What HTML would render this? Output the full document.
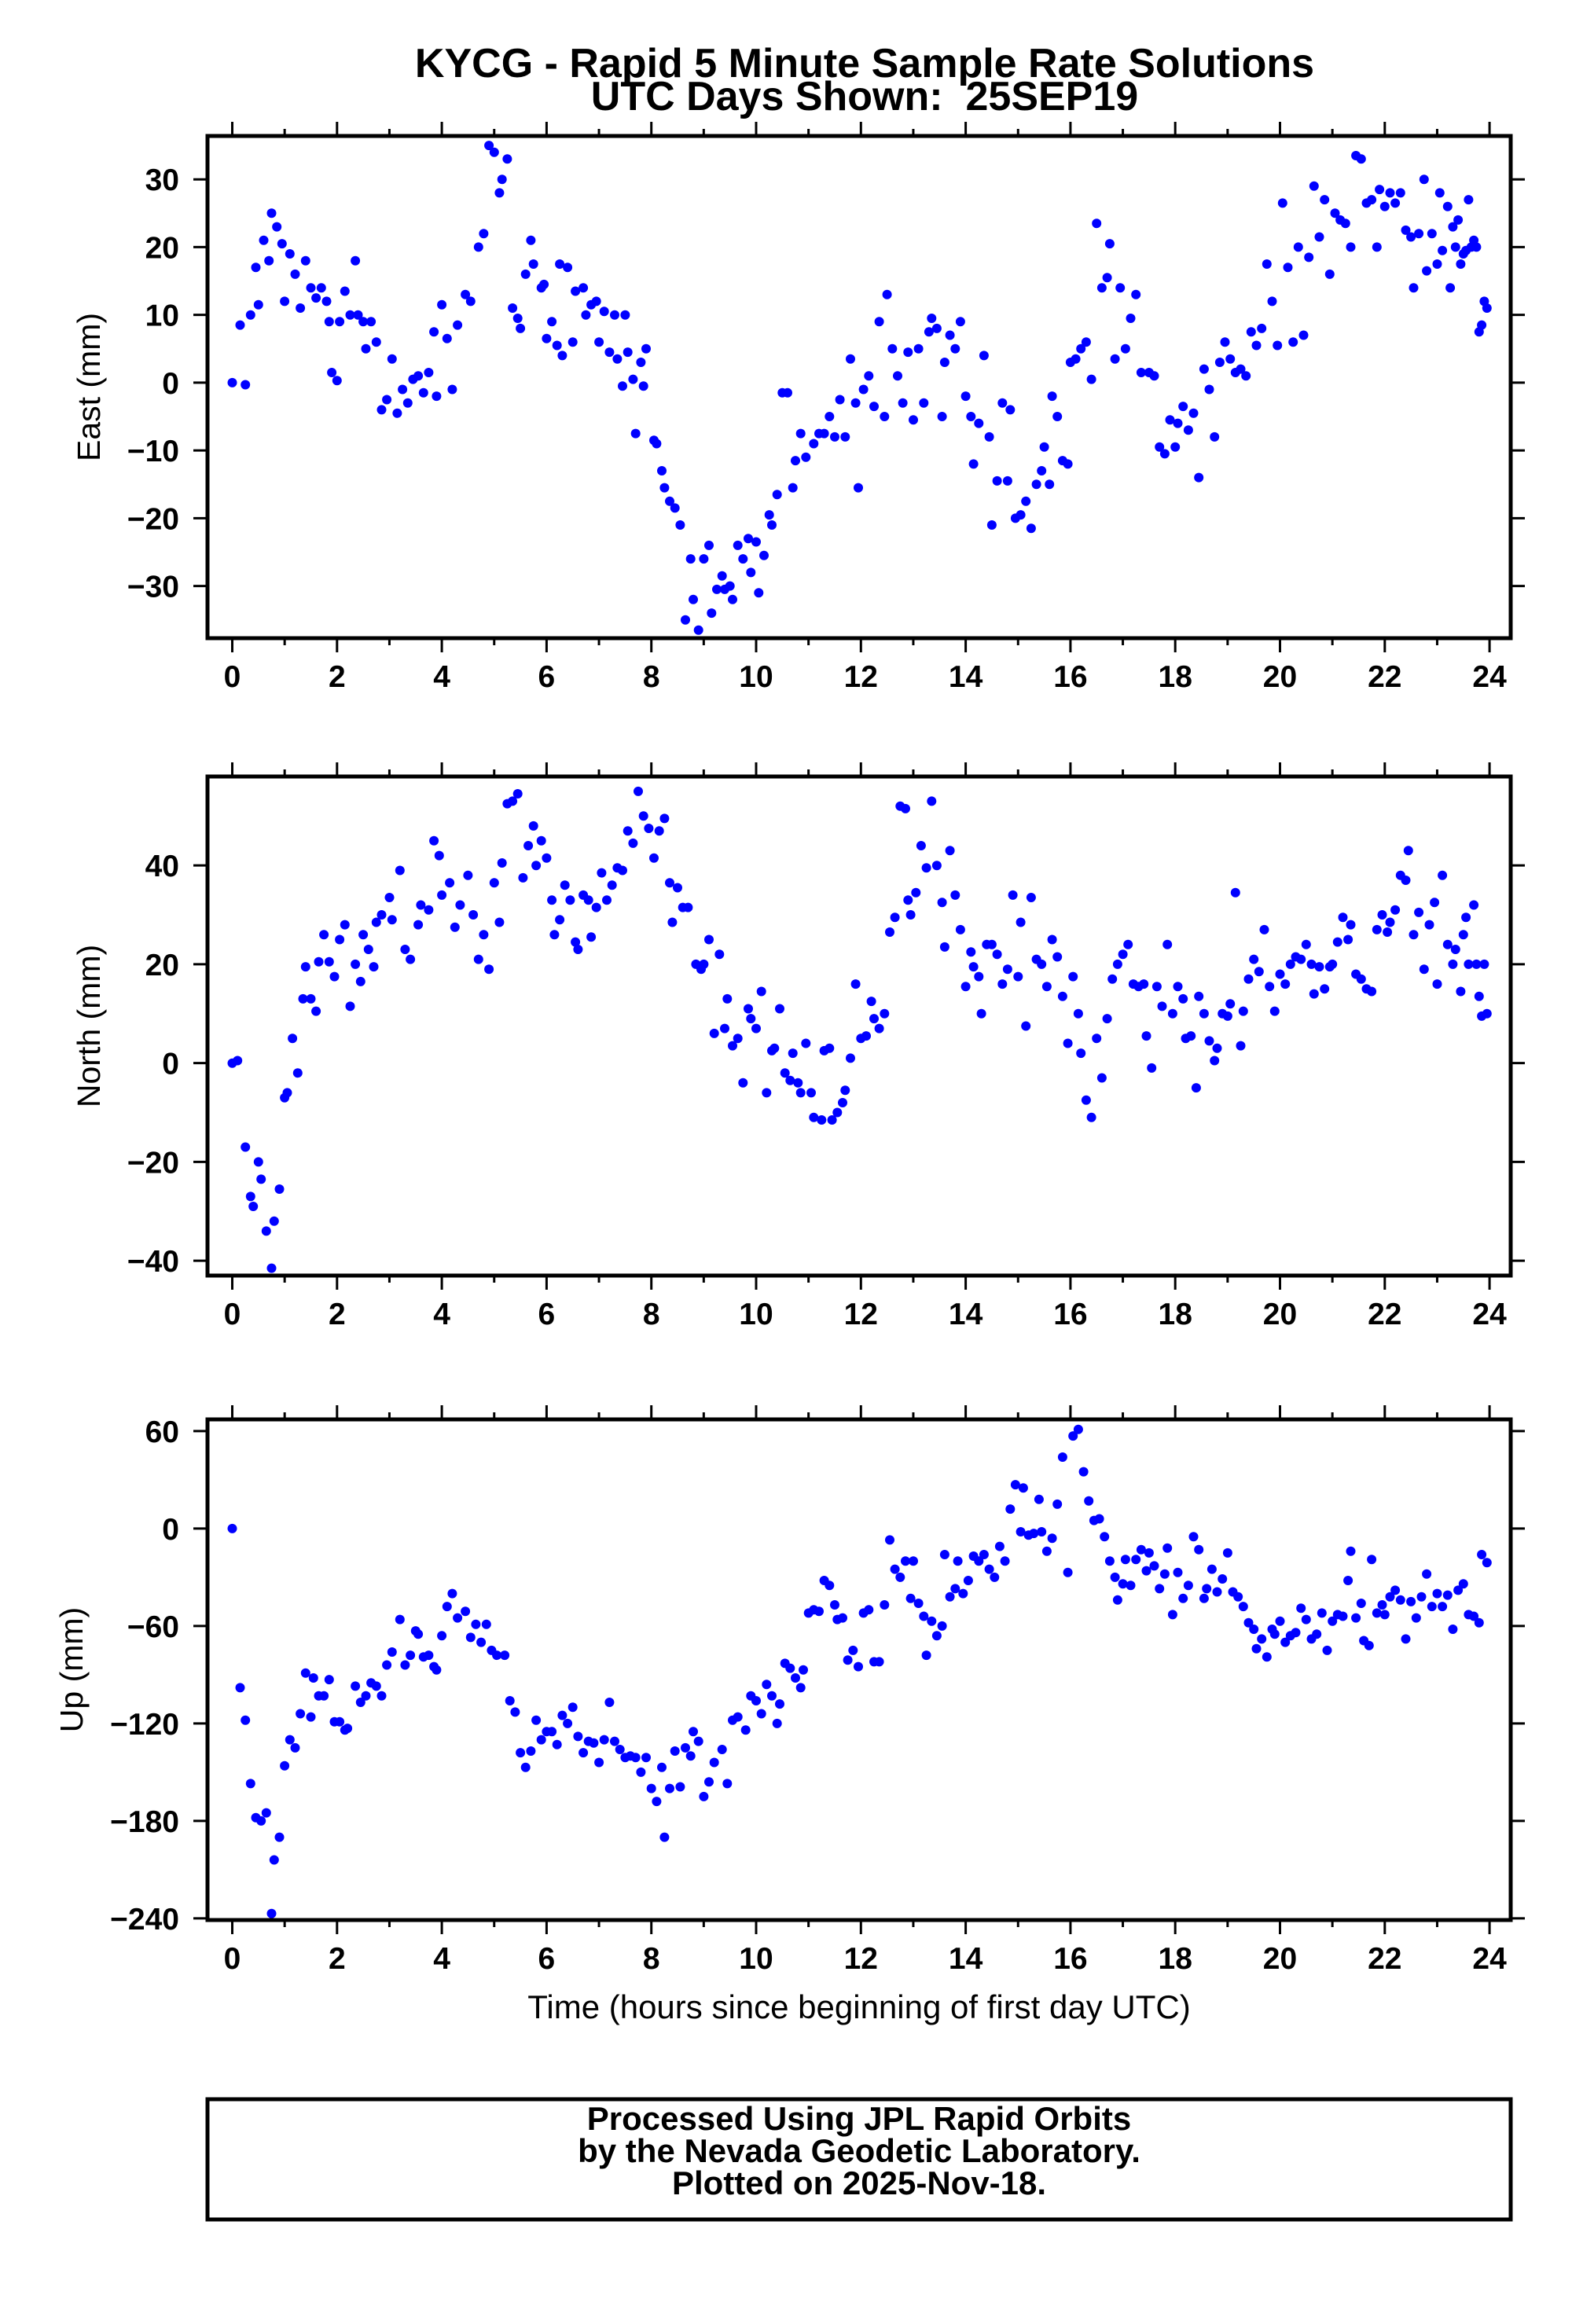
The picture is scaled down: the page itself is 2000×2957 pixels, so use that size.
<!DOCTYPE html>
<html><head><meta charset="utf-8"><style>
html,body{margin:0;padding:0;background:#fff}
svg{display:block}
text{font-family:"Liberation Sans",sans-serif}
</style></head><body>
<svg id="chart" width="2000" height="2957" viewBox="0 0 2000 2957" xmlns="http://www.w3.org/2000/svg">
<text x="1100" y="98" text-anchor="middle" font-size="52" font-weight="bold">KYCG - Rapid 5 Minute Sample Rate Solutions</text>
<text x="1100" y="140" text-anchor="middle" font-size="52" font-weight="bold">UTC Days Shown:&#160; 25SEP19</text>
<g id="plots"></g>
<text x="1093" y="2568" text-anchor="middle" font-size="42">Time (hours since beginning of first day UTC)</text>
<rect x="264" y="2671" width="1658" height="153" fill="none" stroke="#000" stroke-width="5"/>
<text x="1093" y="2710" text-anchor="middle" font-size="42" font-weight="bold">Processed Using JPL Rapid Orbits</text>
<text x="1093" y="2751" text-anchor="middle" font-size="42" font-weight="bold">by the Nevada Geodetic Laboratory.</text>
<text x="1093" y="2792" text-anchor="middle" font-size="42" font-weight="bold">Plotted on 2025-Nov-18.</text>
</svg>
<script>
const xTicks = [0,2,4,6,8,10,12,14,16,18,20,22,24];
const eastTicks = [-30,-20,-10,0,10,20,30];
const northTicks = [-40,-20,0,20,40];
const upTicks = [-240,-180,-120,-60,0,60];

const eastT = [0,0.15,0.25,0.35,0.45,0.5,0.6,0.7,0.75,0.85,0.95,1.0,1.1,1.2,1.3,1.4,1.5,1.6,1.7,1.8,1.85,1.9,2.0,2.05,2.15,2.25,2.35,2.4,2.5,2.55,2.65,2.75,2.85,2.95,3.05,3.15,3.25,3.35,3.45,3.55,3.65,3.75,3.85,3.9,4.0,4.1,4.2,4.3,4.45,4.55,4.7,4.8,4.9,5.0,5.1,5.15,5.25,5.35,5.45,5.5,5.6,5.7,5.75,5.9,5.95,6.0,6.1,6.2,6.25,6.3,6.4,6.5,6.55,6.7,6.75,6.85,6.95,7.0,7.1,7.2,7.3,7.35,7.45,7.5,7.55,7.65,7.7,7.8,7.85,7.9,8.05,8.1,8.2,8.25,8.35,8.45,8.55,8.65,8.75,8.8,8.9,9.0,9.1,9.15,9.25,9.35,9.4,9.5,9.55,9.65,9.75,9.85,9.9,10.0,10.05,10.15,10.25,10.3,10.4,10.5,10.6,10.7,10.75,10.85,10.95,11.1,11.2,11.3,11.4,11.5,11.6,11.7,11.8,11.9,11.95,12.05,12.15,12.25,12.35,12.45,12.5,12.6,12.7,12.8,12.9,13.0,13.1,13.2,13.3,13.35,13.45,13.55,13.6,13.7,13.8,13.9,14.0,14.1,14.15,14.25,14.35,14.45,14.5,14.6,14.7,14.8,14.85,14.95,15.05,15.15,15.25,15.35,15.45,15.5,15.6,15.65,15.75,15.85,15.95,16.0,16.1,16.2,16.3,16.4,16.5,16.6,16.7,16.75,16.85,16.95,17.05,17.15,17.25,17.35,17.5,17.6,17.7,17.8,17.9,18.0,18.05,18.15,18.25,18.35,18.45,18.55,18.65,18.75,18.85,18.95,19.05,19.15,19.25,19.35,19.45,19.55,19.65,19.75,19.85,19.95,20.05,20.15,20.25,20.35,20.45,20.55,20.65,20.75,20.85,20.95,21.05,21.15,21.25,21.35,21.45,21.55,21.65,21.75,21.85,21.9,22.0,22.1,22.2,22.3,22.4,22.5,22.55,22.65,22.75,22.8,22.9,23.0,23.05,23.1,23.2,23.25,23.3,23.35,23.4,23.45,23.5,23.55,23.6,23.65,23.7,23.75,23.8,23.85,23.9,23.95];
const eastV = [0,8.5,-0.3,10,17,11.5,21,18,25,23,20.5,12,19,16,11,18,14,12.5,14,12,9,1.5,0.3,9,13.5,10,18,10,9,5,9,6,-4,-2.5,3.5,-4.5,-1,-3,0.5,1,-1.5,1.5,7.5,-2,11.5,6.5,-1,8.5,13,12,20,22,35,34,28,30,33,11,9.5,8,16,21,17.5,14,14.5,6.5,9,5.5,17.5,4,17,6,13.5,14,10,11.5,12,6,10.5,4.5,10,3.5,-0.5,10,4.5,0.5,-7.5,3,-0.5,5,-8.5,-9,-13,-15.5,-17.5,-18.5,-21,-35,-26,-32,-36.5,-26,-24,-34,-30.5,-28.5,-30.5,-30,-32,-24,-26,-23,-28,-23.5,-31,-25.5,-19.5,-21,-16.5,-1.5,-1.5,-15.5,-11.5,-7.5,-11,-9,-7.5,-7.5,-5,-8,-2.5,-8,3.5,-3,-15.5,-1,1,-3.5,9,-5,13,5,1,-3,4.5,-5.5,5,-3,7.5,9.5,8,-5,3,7,5,9,-2,-5,-12,-6,4,-8,-21,-14.5,-3,-14.5,-4,-20,-19.5,-17.5,-21.5,-15,-13,-9.5,-15,-2,-5,-11.5,-12,3,3.5,5,6,0.5,23.5,14,15.5,20.5,3.5,14,5,9.5,13,1.5,1.5,1,-9.5,-10.5,-5.5,-9.5,-6,-3.5,-7,-4.5,-14,2,-1,-8,3,6,3.5,1.5,2,1,7.5,5.5,8,17.5,12,5.5,26.5,17,6,20,7,18.5,29,21.5,27,16,25,24,23.5,20,33.5,33,26.5,27,20,28.5,26,28,26.5,28,22.5,21.5,14,22,30,16.5,22,17.5,28,19.5,26,14,23,20,24,17.5,19,19.5,27,20,21,20,7.5,8.5,12,11];

const northT = [0,0.1,0.25,0.35,0.4,0.5,0.55,0.65,0.75,0.8,0.9,1.0,1.05,1.15,1.25,1.35,1.4,1.5,1.6,1.65,1.75,1.85,1.95,2.05,2.15,2.25,2.35,2.45,2.5,2.6,2.7,2.75,2.85,3.0,3.05,3.2,3.3,3.4,3.55,3.6,3.75,3.85,3.95,4.0,4.15,4.25,4.35,4.5,4.6,4.7,4.8,4.9,5.0,5.1,5.15,5.25,5.35,5.45,5.55,5.65,5.75,5.8,5.9,6.0,6.1,6.15,6.25,6.35,6.45,6.55,6.6,6.7,6.8,6.85,6.95,7.05,7.15,7.25,7.35,7.45,7.55,7.65,7.75,7.85,7.95,8.05,8.15,8.25,8.35,8.4,8.5,8.6,8.7,8.85,8.95,9.0,9.1,9.2,9.3,9.4,9.45,9.55,9.65,9.75,9.85,9.9,10.0,10.1,10.2,10.3,10.35,10.45,10.55,10.65,10.7,10.8,10.85,10.95,11.05,11.1,11.25,11.3,11.4,11.45,11.55,11.65,11.7,11.8,11.9,12.0,12.1,12.2,12.25,12.35,12.45,12.55,12.65,12.75,12.85,12.9,12.95,13.05,13.15,13.25,13.35,13.45,13.55,13.6,13.7,13.8,13.9,14.0,14.1,14.15,14.25,14.3,14.4,14.5,14.6,14.7,14.8,14.9,15.0,15.05,15.15,15.25,15.35,15.45,15.55,15.65,15.75,15.85,15.95,16.05,16.15,16.2,16.3,16.4,16.5,16.6,16.7,16.8,16.9,17.0,17.1,17.2,17.3,17.4,17.45,17.55,17.65,17.75,17.85,17.95,18.05,18.15,18.2,18.3,18.4,18.45,18.55,18.65,18.75,18.8,18.9,19.0,19.05,19.15,19.25,19.3,19.4,19.5,19.6,19.7,19.8,19.9,20.0,20.1,20.2,20.3,20.4,20.5,20.6,20.65,20.75,20.85,20.95,21.0,21.1,21.2,21.3,21.35,21.45,21.55,21.65,21.75,21.85,21.95,22.05,22.1,22.2,22.3,22.4,22.45,22.55,22.65,22.75,22.85,22.95,23.0,23.1,23.2,23.3,23.35,23.45,23.5,23.55,23.6,23.7,23.75,23.8,23.85,23.9,23.95];
const northV = [0,0.5,-17,-27,-29,-20,-23.5,-34,-41.5,-32,-25.5,-7,-6,5,-2,13,19.5,13,10.5,20.5,26,20.5,17.5,25,28,11.5,20,16.5,26,23,19.5,28.5,30,33.5,29,39,23,21,28,32,31,45,42,34,36.5,27.5,32,38,30,21,26,19,36.5,28.5,40.5,52.5,53,54.5,37.5,44,48,40,45,41.5,33,26,29,36,33,24.5,23,34,33,25.5,31.5,38.5,33,36,39.5,39,47,44.5,55,50,47.5,41.5,47,49.5,36.5,28.5,35.5,31.5,31.5,20,19,20,25,6,22,7,13,3.5,5,-4,11,9,7,14.5,-6,2.5,3,11,-2,-3.5,2,-4,-6,4,-6,-11,-11.5,2.5,3,-11.5,-10,-8,-5.5,1,16,5,5.5,12.5,9,7,10,26.5,29.5,52,51.5,33,30,34.5,44,39.5,53,40,32.5,23.5,43,34,27,15.5,22.5,19.5,17.5,10,24,24,22,16,19,34,17.5,28.5,7.5,33.5,21,20,15.5,25,21.5,13.5,4,17.5,10,2,-7.5,-11,5,-3,9,17,20,22,24,16,15.5,16,5.5,-1,15.5,11.5,24,10,15.5,13,5,5.5,-5,13.5,10,4.5,0.5,3,10,9.5,12,34.5,3.5,10.5,17,21,18.5,27,15.5,10.5,18,16,20,21.5,21,24,20,14,19.5,15,19.5,20,24.5,29.5,25,28,18,17,15,14.5,27,30,26.5,28.5,31,38,37,43,26,30.5,19,28,32.5,16,38,24,20,23,14.5,26,29.5,20,32,20,13.5,9.5,20,10];

const upT = [0,0.15,0.25,0.35,0.45,0.55,0.65,0.75,0.8,0.9,1.0,1.1,1.2,1.3,1.4,1.5,1.55,1.65,1.75,1.85,1.95,2.05,2.15,2.2,2.35,2.45,2.55,2.65,2.75,2.85,2.95,3.05,3.2,3.3,3.4,3.5,3.55,3.65,3.75,3.85,3.9,4.0,4.1,4.2,4.3,4.45,4.55,4.65,4.75,4.85,4.95,5.05,5.2,5.3,5.4,5.5,5.6,5.7,5.8,5.9,6.0,6.1,6.2,6.3,6.4,6.5,6.6,6.7,6.8,6.9,7.0,7.1,7.2,7.3,7.4,7.5,7.6,7.7,7.8,7.9,8.0,8.1,8.2,8.25,8.35,8.45,8.55,8.65,8.75,8.8,8.9,9.0,9.1,9.2,9.35,9.45,9.55,9.65,9.8,9.9,10.0,10.1,10.2,10.3,10.4,10.45,10.55,10.65,10.75,10.85,10.9,11.0,11.1,11.2,11.3,11.4,11.5,11.55,11.65,11.75,11.85,11.95,12.05,12.15,12.25,12.35,12.45,12.55,12.65,12.75,12.85,12.95,13.0,13.1,13.2,13.25,13.35,13.45,13.55,13.6,13.7,13.8,13.85,13.95,14.05,14.15,14.25,14.35,14.45,14.55,14.65,14.75,14.85,14.95,15.05,15.1,15.2,15.3,15.4,15.45,15.55,15.65,15.75,15.85,15.95,16.05,16.15,16.25,16.35,16.45,16.55,16.65,16.75,16.85,16.9,17.0,17.05,17.15,17.25,17.35,17.45,17.5,17.6,17.7,17.8,17.85,17.95,18.05,18.15,18.25,18.35,18.45,18.55,18.6,18.7,18.8,18.9,19.0,19.1,19.2,19.3,19.4,19.5,19.55,19.65,19.75,19.85,19.9,20.0,20.1,20.2,20.3,20.4,20.5,20.6,20.7,20.8,20.9,21.0,21.1,21.2,21.3,21.35,21.45,21.55,21.6,21.7,21.75,21.85,21.95,22.0,22.1,22.2,22.3,22.4,22.5,22.6,22.7,22.8,22.9,23.0,23.1,23.2,23.3,23.4,23.5,23.6,23.7,23.8,23.85,23.95];
const upV = [0,-98,-118,-157,-178,-180,-175,-237,-204,-190,-146,-130,-135,-114,-89,-116,-92,-103,-103,-93,-119,-119,-124,-123,-97,-107,-103,-95,-97,-103,-84,-76,-56,-84,-78,-63,-65,-79,-78,-85,-87,-66,-48,-40,-55,-51,-67,-59,-70,-59,-75,-78,-78,-106,-113,-138,-147,-137,-118,-130,-125,-125,-133,-115,-120,-110,-128,-138,-131,-132,-144,-130,-107,-131,-136,-141,-140,-141,-150,-141,-160,-168,-147,-190,-160,-137,-159,-135,-140,-125,-131,-165,-156,-144,-136,-157,-118,-116,-124,-103,-106,-114,-96,-103,-120,-108,-83,-86,-92,-98,-87,-52,-50,-51,-32,-35,-47,-56,-55,-81,-75,-85,-52,-50,-82,-82,-47,-7,-25,-30,-20,-43,-20,-46,-54,-78,-57,-66,-60,-16,-42,-37,-20,-40,-32,-17,-20,-16,-25,-30,-11,-20,12,27,-2,25,-4,-3,18,-2,-14,-6,15,44,-27,57,61,35,17,5,6,-5,-20,-30,-44,-34,-19,-35,-19,-13,-26,-15,-23,-37,-28,-12,-53,-27,-43,-35,-5,-13,-43,-37,-25,-39,-31,-15,-39,-42,-48,-58,-62,-74,-68,-79,-62,-65,-57,-70,-66,-64,-49,-56,-68,-65,-52,-75,-57,-53,-54,-32,-14,-55,-46,-69,-72,-19,-52,-47,-53,-42,-38,-44,-68,-45,-55,-42,-28,-48,-40,-48,-41,-62,-38,-34,-53,-54,-58,-16,-21];

const NS = 'http://www.w3.org/2000/svg';
const root = document.getElementById('plots');
const X0 = 264, X1 = 1922;
function xs(h){ return 295.5 + h * 66.65; }
function mk(tag, attrs, parent){ const e = document.createElementNS(NS, tag); for (const k in attrs) e.setAttribute(k, attrs[k]); parent.appendChild(e); return e; }

function panel(key, label, top, bottom, vTop, vBot, ticks, T, V, labelX){
  const g = mk('g', {}, root);
  
  
  const ys = v => top + (vTop - v) / (vTop - vBot) * (bottom - top);
  const dg = mk('g', {fill:'#0000ff'}, g);
  
  
  for (let i = 0; i < T.length; i++){
    const c = mk('circle', {cx: xs(T[i]).toFixed(1), cy: ys(V[i]).toFixed(1), r: 6}, dg);
    
    
  }
  for (let h = 0; h <= 24; h++){
    const x = xs(h), L = (h % 2 === 0) ? 18 : 9;
    mk('line', {x1:x, x2:x, y1:bottom, y2:bottom + L, stroke:'#000', 'stroke-width':3}, g);
    mk('line', {x1:x, x2:x, y1:top, y2:top - L, stroke:'#000', 'stroke-width':3}, g);
  }
  xTicks.forEach(h => {
    const t = mk('text', {x: xs(h), y: bottom + 62, 'text-anchor':'middle', 'font-size':39, 'font-weight':'bold'}, g);
    t.textContent = h;
    
    
  });
  ticks.forEach(v => {
    const y = ys(v);
    mk('line', {x1:X0 - 18, x2:X0, y1:y, y2:y, stroke:'#000', 'stroke-width':3}, g);
    mk('line', {x1:X1, x2:X1 + 18, y1:y, y2:y, stroke:'#000', 'stroke-width':3}, g);
    const t = mk('text', {x: X0 - 36, y: y + 14, 'text-anchor':'end', 'font-size':39, 'font-weight':'bold'}, g);
    t.textContent = v < 0 ? '\u2212' + Math.abs(v) : String(v);
    
    
  });
  const f = mk('rect', {x:X0, y:top, width:X1 - X0, height:bottom - top, fill:'none', stroke:'#000', 'stroke-width':5}, g);
  
  
  const cy = (top + bottom) / 2;
  const yl = mk('text', {x: labelX, y: cy, 'text-anchor':'middle', 'font-size':41, transform:'rotate(-90 ' + labelX + ' ' + cy + ')'}, g);
  yl.textContent = label;
  
  
}
panel('east', 'East (mm)', 173, 812, 36.4, -37.7, eastTicks, eastT, eastV, 127);
panel('north', 'North (mm)', 988, 1623, 58, -43, northTicks, northT, northV, 127);
panel('up', 'Up (mm)', 1806, 2443, 67.2, -241, upTicks, upT, upV, 105);
</script>
</body></html>
